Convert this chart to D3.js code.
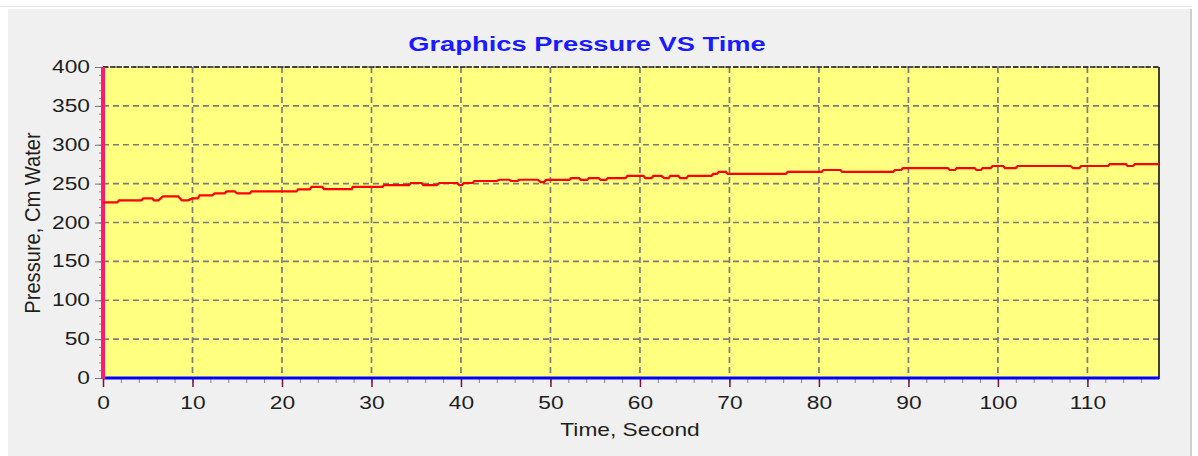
<!DOCTYPE html>
<html>
<head>
<meta charset="utf-8">
<script src="https://cdn.jsdelivr.net/npm/d3@7"></script>
<style>
  body { margin: 0; background: #ffffff; }
  text { font-family: "Liberation Sans", Arial, sans-serif; }
</style>
</head>
<body>
<div id="chart"></div>
<script>
// pressure trace: start, end (s) and level (cm water)
var stepStart = [0, 1.8, 4.5, 5.7, 6.7, 8.8, 10, 10.8, 12.5, 13.8, 15, 16.6, 21.8, 23.3, 24.7, 27.9,
  31.4, 34.4, 35.8, 37.6, 39.8, 40.3, 41.5, 44.3, 45.6, 46.5, 48.9, 49.5, 52.3, 53.4, 54.3, 55.6,
  56.4, 58.6, 60.6, 61.5, 62.7, 63.4, 64.5, 65.4, 68.2, 68.8, 69.8, 76.5, 80.5, 82.6, 88.5, 89.4,
  94.6, 95.4, 97.6, 98.3, 99.4, 100.8, 102.2, 108.4, 109.3, 112.5, 114.5, 115.3];
var stepEnd = [1.6, 4.3, 5.5, 6.2, 8.4, 9.5, 10.6, 12.2, 13.6, 14.7, 16.4, 21.6, 23.1, 24.5, 27.8, 31.2,
  34.2, 35.6, 37.3, 39.6, 40.1, 41.3, 44.0, 45.4, 46.3, 48.6, 49.3, 52.1, 53.2, 54.1, 55.4, 56.2,
  58.4, 60.4, 61.3, 62.4, 63.2, 64.3, 65.2, 68.0, 68.6, 69.6, 76.3, 80.3, 82.4, 88.3, 89.2, 94.4,
  95.2, 97.4, 98.1, 99.2, 100.6, 102.0, 108.1, 109.1, 112.3, 114.3, 115.1, 118];
var stepLevel = [226, 228.5, 231, 228.5, 233.7, 228.5, 231, 235, 237.5, 240, 237.5, 240, 242.7, 245.7, 243, 245.7,
  248, 250.8, 248, 250.8, 248, 250.8, 253.4, 255, 253.4, 255, 252, 254.7, 257, 254.7, 257, 254.7,
  257, 260, 257, 260, 257, 260, 257, 260, 262.5, 265, 262.5, 265, 267.5, 265, 267.5, 270,
  267.5, 270, 267.5, 270, 272.7, 270, 272.7, 270, 272.7, 275, 272.7, 275];

var yTicks = [0, 50, 100, 150, 200, 250, 300, 350, 400];
var xTicks = [0, 10, 20, 30, 40, 50, 60, 70, 80, 90, 100, 110];
var xMax = 118, yMax = 400;

var width = 1198, height = 456;
var plotL = 103, plotR = 1159, plotT = 67, plotB = 378;
var sx = 1.3; // the screenshot is stretched sideways

var svg = d3.select("#chart").append("svg").attr("width", width).attr("height", height);

// panel
svg.append("line").attr("x1", 0).attr("x2", 1192).attr("y1", 6.5).attr("y2", 6.5).style("stroke", "#e6e6e6");
svg.append("rect").attr("x", 8).attr("y", 9).attr("width", 1182).attr("height", 447).style("fill", "#f0f0f0");
svg.append("line").attr("x1", 1191).attr("x2", 1191).attr("y1", 9).attr("y2", 456).style("stroke", "#cfcfcf").style("stroke-width", 2);

var x = d3.scaleLinear().domain([0, xMax]).range([plotL, plotR]);
var y = d3.scaleLinear().domain([0, yMax]).range([plotB, plotT]);

svg.append("rect").attr("x", plotL).attr("y", plotT).attr("width", plotR - plotL).attr("height", plotB - plotT)
  .style("fill", "#ffff80");

// grid
var grid = svg.append("g");
grid.selectAll(".hg").data(yTicks.slice(1)).enter().append("line")
  .attr("x1", plotL).attr("x2", plotR).attr("y1", d => y(d)).attr("y2", d => y(d))
  .style("stroke", "#7c7c7c").style("stroke-width", 1.7).style("stroke-dasharray", "6,4");
grid.selectAll(".vg").data(xTicks.slice(1)).enter().append("line")
  .attr("x1", d => x(d)).attr("x2", d => x(d)).attr("y1", plotT).attr("y2", plotB)
  .style("stroke", "#7c7c7c").style("stroke-width", 1.7).style("stroke-dasharray", "6,4");

// frame: dark dashed top, solid right
svg.append("line").attr("x1", plotL).attr("x2", plotR).attr("y1", plotT).attr("y2", plotT)
  .style("stroke", "#222").style("stroke-width", 1.4).style("stroke-dasharray", "5,2");
svg.append("line").attr("x1", plotR).attr("x2", plotR).attr("y1", plotT).attr("y2", plotB + 1)
  .style("stroke", "#111").style("stroke-width", 1.6);

// minor ticks
svg.append("g").attr("transform", "translate(" + plotL + ",0)")
  .call(d3.axisLeft(y).tickValues(d3.range(0, 401, 10)).tickSize(4).tickFormat(""))
  .call(g => g.select(".domain").remove())
  .selectAll("line").style("stroke", "#888");
svg.append("g").attr("transform", "translate(0," + plotB + ")")
  .call(d3.axisBottom(x).tickValues(d3.range(0, 118, 2)).tickSize(5).tickFormat(""))
  .call(g => g.select(".domain").remove())
  .selectAll("line").style("stroke", "#888");

// y axis
var yAxis = svg.append("g").attr("transform", "translate(" + plotL + ",0)")
  .call(d3.axisLeft(y).tickValues(yTicks).tickSize(8).tickPadding(5));
yAxis.select(".domain").remove();
yAxis.selectAll("line").style("stroke", "#777");
yAxis.selectAll("text").attr("x", -13 / sx).attr("transform", "scale(" + sx + ",1)")
  .style("font-size", "17.5px").style("fill", "#1e1e1e");

// x axis
var xAxis = svg.append("g").attr("transform", "translate(0," + plotB + ")")
  .call(d3.axisBottom(x).tickValues(xTicks).tickSize(9).tickPadding(10));
xAxis.select(".domain").remove();
xAxis.selectAll("line").style("stroke", "#7a1040").style("stroke-width", 1.5);
xAxis.selectAll("text").attr("transform", "scale(" + sx + ",1)")
  .style("font-size", "17.5px").style("fill", "#1e1e1e");

// coloured axis lines
svg.append("line").attr("x1", x(0)).attr("x2", x(xMax)).attr("y1", y(0)).attr("y2", y(0))
  .style("stroke", "#0000ff").style("stroke-width", 3);
svg.append("line").attr("x1", x(0)).attr("x2", x(0)).attr("y1", y(yMax)).attr("y2", y(0) + 1)
  .style("stroke", "#ff1a6a").style("stroke-width", 4);

// pressure line
var points = [];
stepStart.forEach(function(s, i) {
  points.push([s, stepLevel[i]]);
  points.push([stepEnd[i], stepLevel[i]]);
});
var line = d3.line().x(d => x(d[0])).y(d => y(d[1]));
svg.append("path").datum(points).attr("d", line)
  .style("fill", "none").style("stroke", "#ff0000").style("stroke-width", 2.2);

// titles
svg.append("text").attr("transform", "translate(587,51) scale(" + sx + ",1)")
  .attr("text-anchor", "middle").style("font-size", "21px").style("font-weight", "bold")
  .style("fill", "#1a1aff").text("Graphics Pressure VS Time");
svg.append("text").attr("transform", "translate(630,436) scale(" + sx + ",1)")
  .attr("text-anchor", "middle").style("font-size", "17.5px").style("fill", "#1e1e1e")
  .text("Time, Second");
svg.append("text").attr("transform", "translate(40,223) rotate(-90) scale(1.15," + sx + ")")
  .attr("text-anchor", "middle").style("font-size", "17.5px").style("fill", "#1e1e1e")
  .text("Pressure, Cm Water");
</script>
</body>
</html>
